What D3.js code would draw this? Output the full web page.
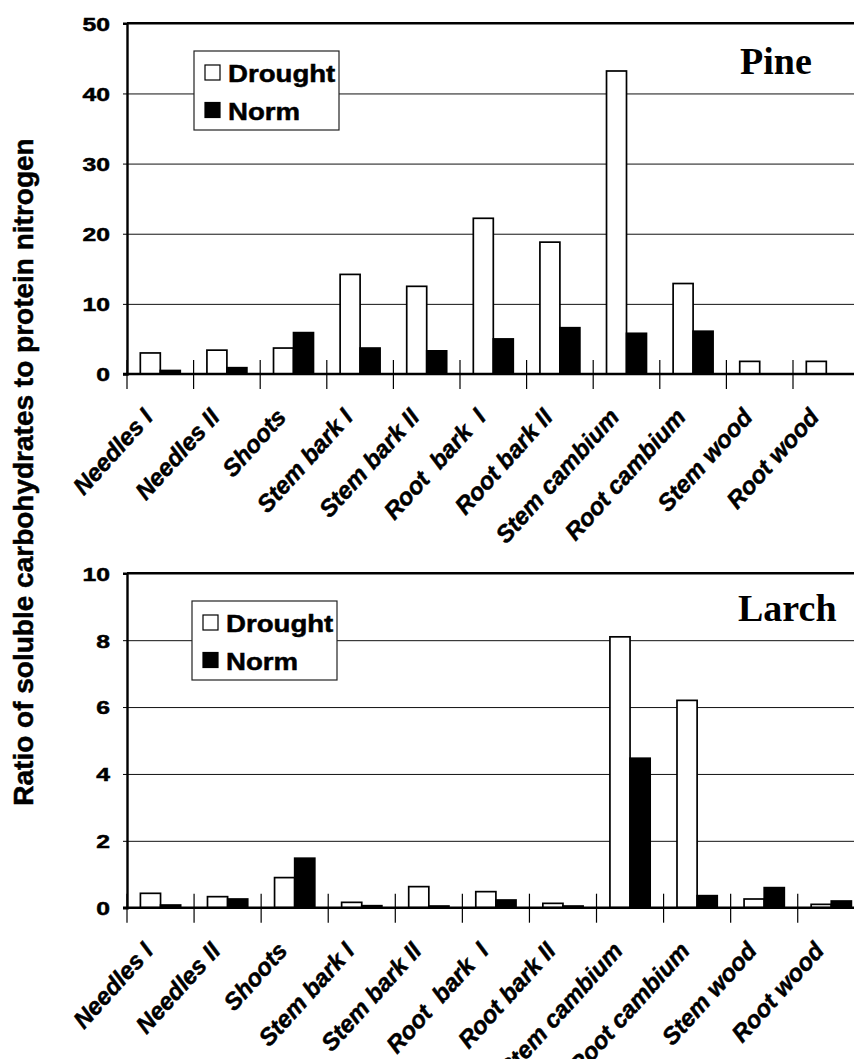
<!DOCTYPE html>
<html>
<head>
<meta charset="utf-8">
<script src="https://cdn.jsdelivr.net/npm/d3@7"></script>
<style>
  body { margin: 0; background: #fff; }
  svg { display: block; }
</style>
</head>
<body>
<div id="chart"></div>
<script>
// tissue categories (same for both species)
var categories = ["Needles I", "Needles II", "Shoots", "Stem bark I", "Stem bark II",
                  "Root  bark  I", "Root bark II", "Stem cambium", "Root cambium",
                  "Stem wood", "Root wood"];
var seriesNames = ["Drought", "Norm"];

// Pine values
var pineDrought = [3.0, 3.4, 3.7, 14.2, 12.5, 22.2, 18.8, 43.2, 12.9, 1.8, 1.8];
var pineNorm    = [0.5, 0.9, 5.9, 3.7, 3.3, 5.0, 6.6, 5.8, 6.1, 0, 0];
var pineTicks   = [0, 10, 20, 30, 40, 50];

// Larch values
var larchDrought = [0.43, 0.33, 0.9, 0.16, 0.63, 0.48, 0.13, 8.1, 6.2, 0.26, 0.1];
var larchNorm    = [0.08, 0.26, 1.48, 0.06, 0.05, 0.23, 0.05, 4.47, 0.36, 0.6, 0.2];
var larchTicks   = [0, 2, 4, 6, 8, 10];

var W = 854, H = 1059;
var svg = d3.select("#chart").append("svg")
    .attr("width", W)
    .attr("height", H);
svg.append("rect").attr("width", W).attr("height", H).attr("fill", "#fff");

// y axis title, shared by both panels
svg.append("text")
    .attr("transform", "translate(33,472) rotate(-90)")
    .attr("text-anchor", "middle")
    .style("font-family", "'Liberation Sans', Arial, sans-serif")
    .style("font-weight", "bold")
    .style("font-size", "28px")
    .attr("stroke", "#000").attr("stroke-width", 0.5)
    .text("Ratio of soluble carbohydrates to protein nitrogen");

function drawPanel(p) {
  var x = d3.scaleBand().domain(categories).range([p.left, p.left + p.width]);
  var bw = x.bandwidth();
  var xs = d3.scaleBand().domain(seriesNames).range([0.2 * bw, 0.8 * bw]);
  var y = d3.scaleLinear().domain([0, d3.max(p.ticks)]).range([p.bottom, p.top]);

  var g = svg.append("g");

  // gridlines
  g.append("g")
      .attr("transform", "translate(" + p.left + ",0)")
      .call(d3.axisLeft(y).tickValues(p.ticks.slice(1, -1)).tickSize(-p.width).tickFormat(""))
      .call(function(s) { s.select(".domain").remove(); })
      .selectAll("line").attr("stroke", "#111").attr("stroke-width", 1);

  // top frame line
  g.append("line")
      .attr("x1", p.left).attr("x2", p.left + p.width)
      .attr("y1", y(d3.max(p.ticks))).attr("y2", y(d3.max(p.ticks)))
      .attr("stroke", "#000").attr("stroke-width", 2.4);

  // y axis with labels
  var ya = g.append("g")
      .attr("transform", "translate(" + p.left + ",0)")
      .call(d3.axisLeft(y).tickValues(p.ticks).tickSize(4).tickPadding(13));
  ya.select(".domain").attr("stroke", "#000").attr("stroke-width", 2.4);
  ya.selectAll(".tick line").attr("stroke", "#000");
  ya.selectAll(".tick text")
      .attr("x", -17 / 1.3)
      .attr("dy", "0.36em")
      .attr("transform", "scale(1.3,1)")
      .style("font-family", "'Liberation Sans', Arial, sans-serif")
      .style("font-weight", "bold")
      .style("font-size", "19px")
      .attr("fill", "#000")
      .attr("stroke", "#000").attr("stroke-width", 0.5);

  // bars
  var rows = categories.map(function(c, i) {
    return {cat: c, vals: [{k: "Drought", v: p.drought[i]}, {k: "Norm", v: p.norm[i]}]};
  });
  g.append("g").selectAll("g")
    .data(rows)
    .enter().append("g")
      .attr("transform", function(d) { return "translate(" + x(d.cat) + ",0)"; })
    .selectAll("rect")
    .data(function(d) { return d.vals.filter(function(e) { return e.v > 0; }); })
    .enter().append("rect")
      .attr("x", function(d) { return xs(d.k); })
      .attr("width", xs.bandwidth())
      .attr("y", function(d) { return y(d.v); })
      .attr("height", function(d) { return y(0) - y(d.v); })
      .attr("fill", function(d) { return d.k == "Drought" ? "#fff" : "#000"; })
      .attr("stroke", "#000")
      .attr("stroke-width", 1.7);

  // baseline
  g.append("line")
      .attr("x1", p.left - 4).attr("x2", p.left + p.width)
      .attr("y1", y(0)).attr("y2", y(0))
      .attr("stroke", "#000").attr("stroke-width", 2.6);

  // category tick marks crossing the baseline
  var bounds = categories.map(function(c) { return x(c); }).concat([p.left + p.width]);
  g.append("g").selectAll("line")
    .data(bounds)
    .enter().append("line")
      .attr("x1", function(d) { return d; }).attr("x2", function(d) { return d; })
      .attr("y1", y(0) - 14).attr("y2", y(0) + 15)
      .attr("stroke", "#000").attr("stroke-width", 1.2);

  // slanted category labels
  g.append("g").selectAll("text")
    .data(categories)
    .enter().append("text")
      .attr("transform", function(d) {
        return "translate(" + (x(d) + bw / 2 - 6) + "," + (y(0) + 44) + ") rotate(-48)";
      })
      .attr("text-anchor", "end")
      .style("white-space", "pre")
      .style("font-family", "'Liberation Sans', Arial, sans-serif")
      .style("font-weight", "bold")
      .style("font-style", "italic")
      .style("font-size", "24px")
      .attr("stroke", "#000").attr("stroke-width", 0.5)
      .text(function(d) { return d; });

  // legend
  var lg = g.append("g").attr("transform", "translate(" + p.legend[0] + "," + p.legend[1] + ")");
  lg.append("rect")
      .attr("width", 145).attr("height", 79)
      .attr("fill", "#fff").attr("stroke", "#222").attr("stroke-width", 1.2);
  seriesNames.forEach(function(s, i) {
    lg.append("rect")
        .attr("x", 11).attr("y", 14 + i * 37.5)
        .attr("width", 15).attr("height", 15)
        .attr("fill", s == "Drought" ? "#fff" : "#000")
        .attr("stroke", "#000").attr("stroke-width", 1.2);
    lg.append("text")
        .attr("x", 34 / 1.15).attr("y", 31.5 + i * 37.5)
        .attr("transform", "scale(1.15,1)")
        .style("font-family", "'Liberation Sans', Arial, sans-serif")
        .style("font-weight", "bold")
        .style("font-size", "24px")
        .attr("stroke", "#000").attr("stroke-width", 0.5)
        .text(s);
  });

  // species name
  g.append("text")
      .attr("x", p.name[0]).attr("y", p.name[1])
      .style("font-family", "'Liberation Serif', 'Times New Roman', serif")
      .style("font-weight", "bold")
      .style("font-size", "38px")
      .text(p.title);
}

drawPanel({
  title: "Pine", top: 23.3, bottom: 374, left: 127, width: 732.6,
  ticks: pineTicks, drought: pineDrought, norm: pineNorm,
  legend: [194, 51], name: [740, 73.5]
});

drawPanel({
  title: "Larch", top: 573.3, bottom: 907.7, left: 127, width: 737.8,
  ticks: larchTicks, drought: larchDrought, norm: larchNorm,
  legend: [192, 601], name: [738, 621]
});
</script>
</body>
</html>
